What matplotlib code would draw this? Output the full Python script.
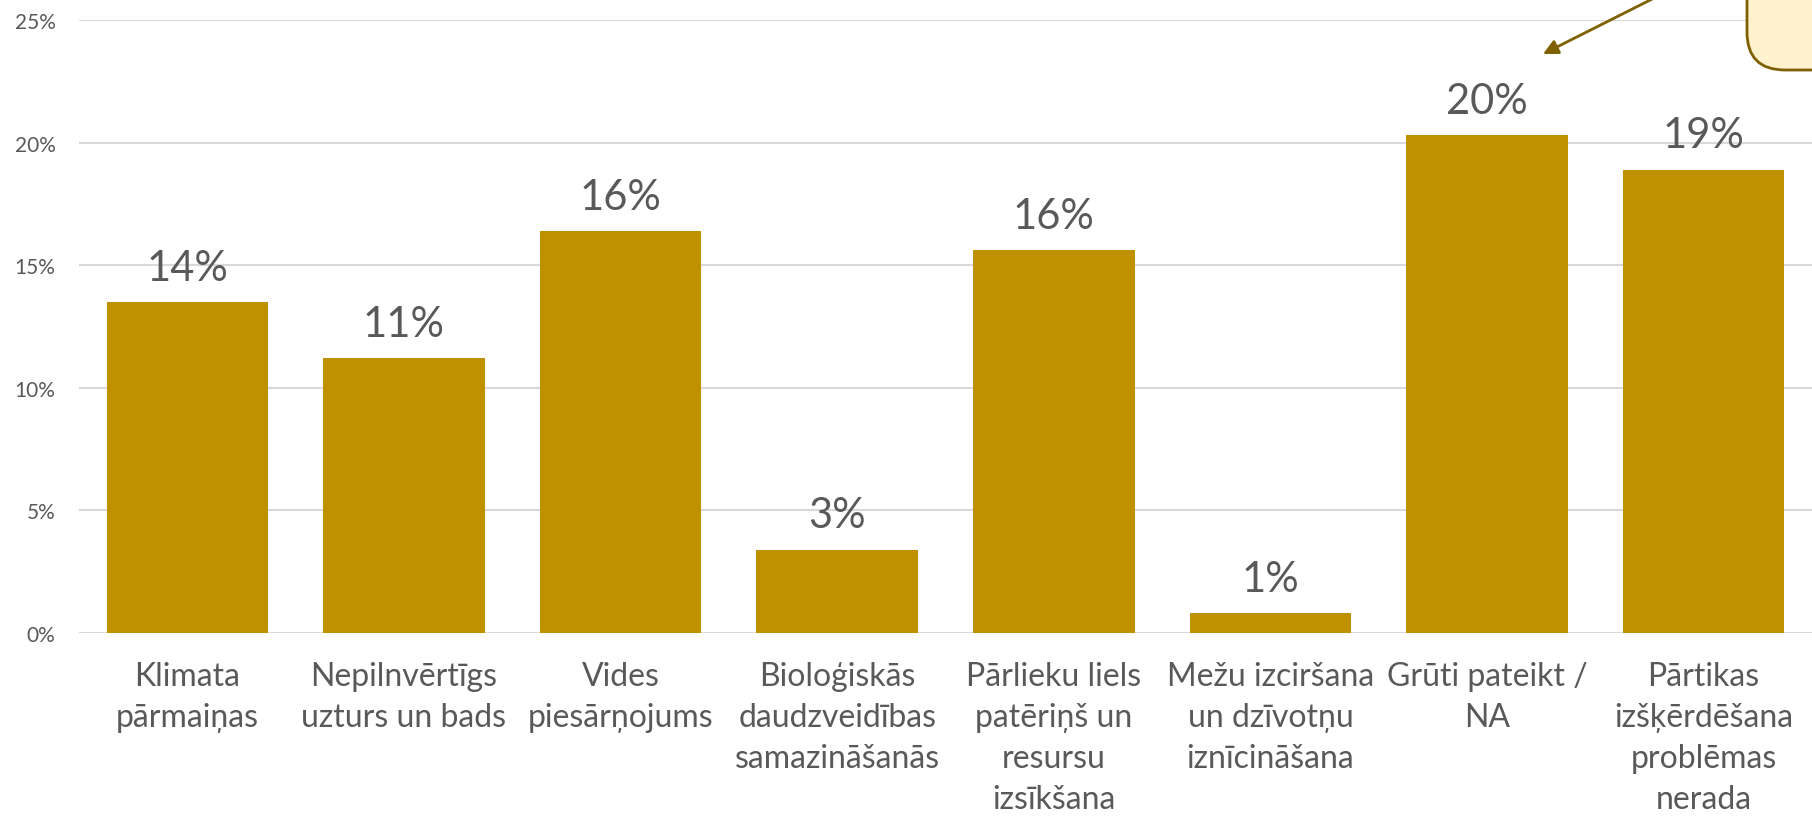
import numpy as np
import matplotlib.pyplot as plt
from matplotlib.patches import FancyBboxPatch, FancyArrowPatch
from matplotlib.ticker import PercentFormatter

# =============================
# DATA
# =============================
categories = [
    "Klimata\npārmaiņas",
    "Nepilnvērtīgs\nuzturs un bads",
    "Vides\npiesārņojums",
    "Bioloģiskās\ndaudzveidības\nsamazināšanās",
    "Pārlieku liels\npatēriņš un\nresursu\nizsīkšana",
    "Mežu izciršana\nun dzīvotņu\niznīcināšana",
    "Grūti pateikt /\nNA",
    "Pārtikas\nizšķērdēšana\nproblēmas\nnerada",
]
values = [13.5, 11.2, 16.4, 3.4, 15.6, 0.8, 20.3, 18.9]
value_labels = ["14%", "11%", "16%", "3%", "16%", "1%", "20%", "19%"]
yticks = [0, 5, 10, 15, 20, 25]

# =============================
# STYLE
# =============================
plt.rcParams['font.family'] = ['Lato', 'DejaVu Sans']
bar_color = "#BF9000"
text_color = "#595959"
grid_color = "#D9D9D9"
note_edge = "#7F6000"
note_fill = "#FFF2CC"

W, H = 1812, 820
fig = plt.figure(figsize=(W / 100, H / 100), dpi=100)
ax = fig.add_axes([79 / W, 1 - 634 / H, 1 - 79 / W, (634 - 21) / H])

x = np.arange(len(categories))
bars = ax.bar(x, values, width=0.745, color=bar_color, zorder=3)

for xi, v, lab in zip(x, values, value_labels):
    ax.annotate(lab, (xi, v), xytext=(0, 16), textcoords="offset points",
                ha="center", va="baseline", fontsize=30, color=text_color)

ax.set_xlim(-0.5, len(categories) - 0.5)
ax.set_ylim(0, 25)
ax.set_yticks(yticks)
ax.yaxis.set_major_formatter(PercentFormatter(decimals=0))
ax.set_xticks(x)
ax.set_xticklabels(categories, fontsize=23, color=text_color, linespacing=1.46)
ax.tick_params(axis="x", length=0, pad=20)
ax.tick_params(axis="y", length=0, pad=17, labelsize=15, labelcolor=text_color)
ax.grid(axis="y", color=grid_color, linewidth=1.5, zorder=0)
for s in ax.spines.values():
    s.set_visible(False)

# =============================
# CALLOUT (pixel overlay)
# =============================
ov = fig.add_axes([0, 0, 1, 1], zorder=5)
ov.set_xlim(0, W)
ov.set_ylim(H, 0)
ov.axis("off")
ov.patch.set_alpha(0)

box = FancyBboxPatch((1747, -60), 200, 131,
                     boxstyle="round,pad=0,rounding_size=38",
                     facecolor=note_fill, edgecolor=note_edge, linewidth=2)
ov.add_patch(box)
arrow = FancyArrowPatch((1680, -14), (1543, 55), arrowstyle="-|>",
                        mutation_scale=22, color=note_edge, linewidth=2,
                        shrinkA=0, shrinkB=0)
ov.add_patch(arrow)

plt.savefig("out.png", dpi=100)
